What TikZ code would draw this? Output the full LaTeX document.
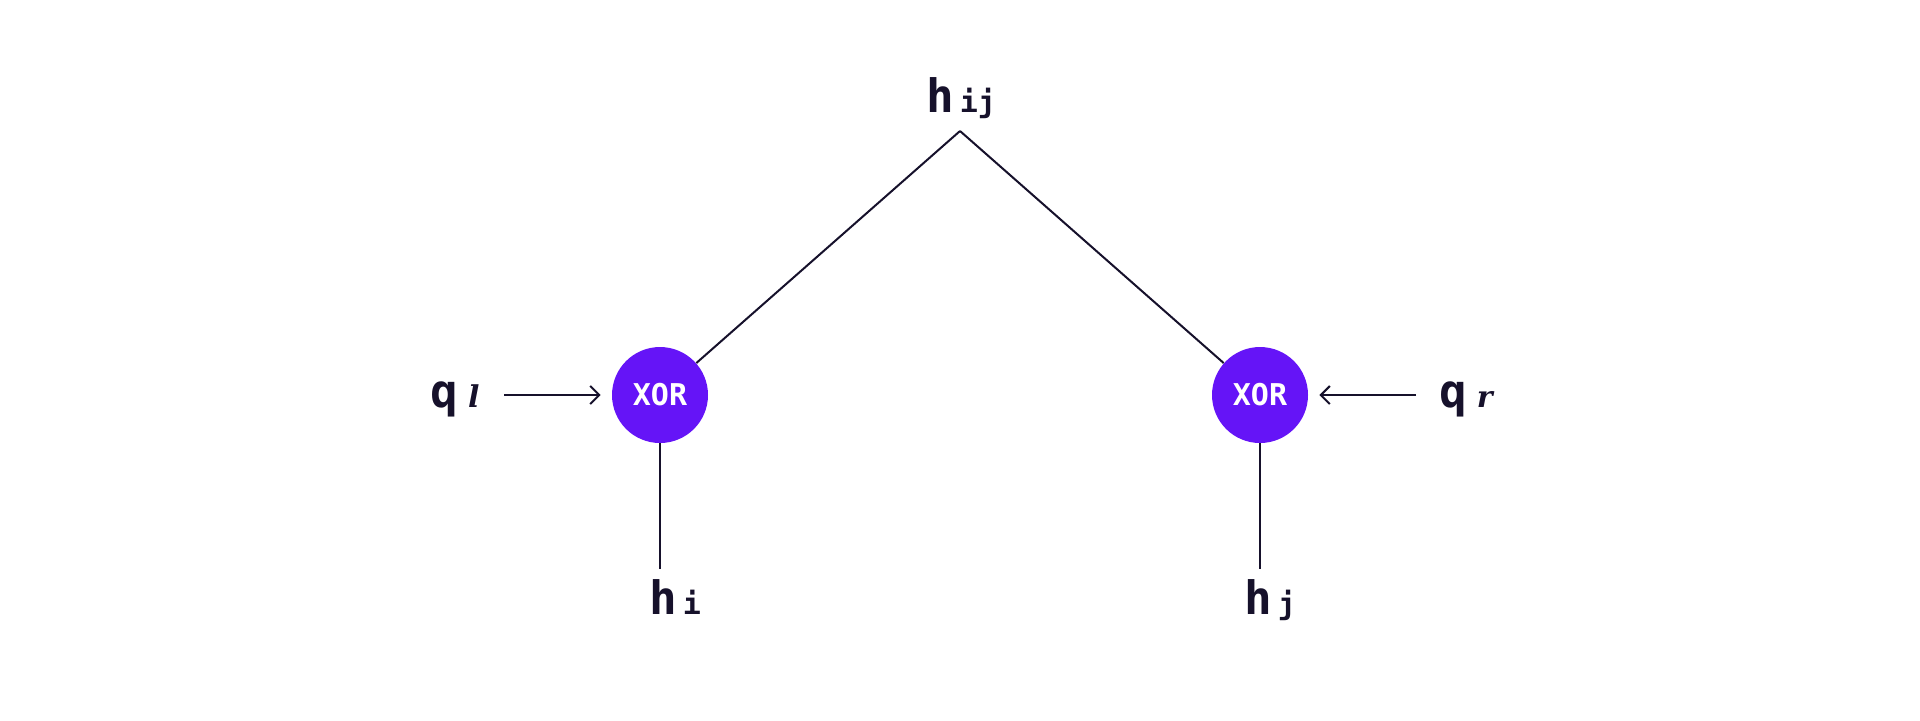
\documentclass[tikz,border=0pt]{standalone}
\usepackage{fontspec}
\setmonofont{DejaVu Sans Mono}
\newfontfamily\qfont{DejaVu Serif}
\usetikzlibrary{arrows.meta, positioning}
\definecolor{ink}{HTML}{16112B}
\definecolor{xorpurple}{HTML}{6514F7}
\newcommand{\hbig}[1]{{\fontsize{23}{23}\selectfont #1}}
\newcommand{\hsub}[1]{{\fontsize{15}{15}\selectfont #1}}
\newcommand{\qsub}[1]{{\qfont\bfseries\itshape\fontsize{15}{15}\selectfont #1}}
\newcommand{\xortext}{{\ttfamily\bfseries\fontsize{15}{15}\selectfont XOR}}

\begin{document}
\begin{tikzpicture}[x=0.5pt, y=-0.5pt,
    lbl/.style={text=ink, font=\ttfamily\bfseries, anchor=base, inner sep=0},
    xorgate/.style={circle, fill=xorpurple, minimum size=48pt, inner sep=0,
        text=white},
    wire/.style={draw=ink, line width=1pt},
    feed/.style={-{Straight Barb[length=4.5pt, width=9pt]}, shorten >=5.5pt}]
                        \useasboundingbox (0, 0) rectangle (1920, 720);
                        \coordinate (top) at (960, 131);
                        \node[xorgate] (xl) at (660, 395) {\xortext};
                        \node[xorgate] (xr) at (1260, 395) {\xortext};
                        \coordinate (xlend) at (660, 569);
                        \coordinate (xrend) at (1260, 569);
                        \coordinate (qlstart) at (504, 395);
                        \coordinate (qrstart) at (1416, 395);
                        \node[lbl] (hij) at (961, 112) {\hbig{h}\hspace{3pt}\hsub{ij}};
                        \node[lbl] (hi) at (675, 614) {\hbig{h}\hspace{3pt}\hsub{i}};
                        \node[lbl] (hj) at (1270, 614) {\hbig{h}\hspace{3pt}\hsub{j}};
                        \node[lbl] (ql) at (455, 407) {\hbig{q}\hspace{5pt}\qsub{l}};
                        \node[lbl] (qr) at (1466, 407) {\hbig{q}\hspace{5pt}\qsub{r}};
                        \draw[wire]
                        (top) edge (xl)
                        (top) edge (xr)
                        (xl) edge (xlend)
                        (xr) edge (xrend)
                        (qlstart) edge[feed] (xl)
                        (qrstart) edge[feed] (xr);
                    \end{tikzpicture}
\end{document}
